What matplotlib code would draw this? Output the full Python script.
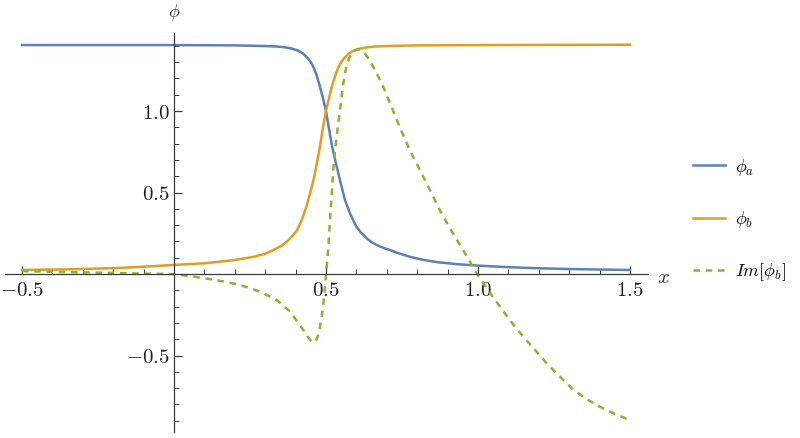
import matplotlib
matplotlib.use("Agg")
import matplotlib.pyplot as plt
from matplotlib.ticker import FixedLocator, MultipleLocator

plt.rcParams['mathtext.fontset'] = 'cm'
plt.rcParams['font.family'] = ['DejaVu Serif']

# phi_a (blue)
x_a = [-0.5, 0.0, 0.2, 0.3, 0.34, 0.37, 0.39, 0.41, 0.425, 0.44, 0.45, 0.46, 0.47, 0.48, 0.49,
       0.50, 0.51, 0.52, 0.53, 0.546, 0.5625, 0.579, 0.60, 0.615, 0.634, 0.65, 0.667, 0.69,
       0.711, 0.74, 0.776, 0.82, 0.87, 0.93, 1.0, 1.08, 1.16, 1.25, 1.36, 1.5]
y_a = [1.405, 1.405, 1.403, 1.399, 1.396, 1.39, 1.382, 1.37, 1.352, 1.325, 1.30, 1.265, 1.215, 1.15, 1.08,
       1.00, 0.89, 0.785, 0.70, 0.577, 0.454, 0.372, 0.29, 0.255, 0.219, 0.196, 0.178, 0.16,
       0.147, 0.127, 0.106, 0.087, 0.072, 0.061, 0.052, 0.044, 0.038, 0.033, 0.029, 0.025]

# phi_b (orange)
x_b = [-0.5, -0.35, -0.2, -0.1, 0.0, 0.1, 0.2, 0.26, 0.30, 0.33, 0.355, 0.375, 0.39, 0.405,
       0.42, 0.435, 0.45, 0.46, 0.47, 0.48, 0.49, 0.50, 0.51, 0.52, 0.53, 0.54, 0.55, 0.56,
       0.575, 0.59, 0.61, 0.63, 0.66, 0.70, 0.8, 1.0, 1.5]
y_b = [0.025, 0.029, 0.036, 0.045, 0.056, 0.066, 0.086, 0.105, 0.125, 0.15, 0.175, 0.205, 0.235, 0.27,
       0.33, 0.41, 0.51, 0.585, 0.68, 0.78, 0.90, 1.00, 1.08, 1.155, 1.215, 1.265, 1.30, 1.325,
       1.352, 1.37, 1.382, 1.39, 1.396, 1.399, 1.403, 1.405, 1.407]

# Im[phi_b] (green dashed)
x_g = [-0.5, -0.35, -0.2, -0.1, 0.0, 0.064, 0.14, 0.217, 0.283, 0.338, 0.382, 0.414, 0.43, 0.442,
       0.452, 0.458, 0.464, 0.47, 0.477, 0.486, 0.492, 0.497, 0.504, 0.508, 0.513, 0.519, 0.524,
       0.53, 0.54, 0.546, 0.551, 0.557, 0.5625, 0.568, 0.576, 0.584, 0.595, 0.606, 0.615, 0.625,
       0.645, 0.66, 0.678, 0.695, 0.711, 0.743, 0.776, 0.809, 0.842, 0.875, 0.908, 0.941, 0.974,
       0.996, 1.03, 1.072, 1.11, 1.149, 1.19, 1.226, 1.27, 1.314, 1.36, 1.401, 1.45, 1.5]
y_g = [0.018, 0.012, 0.007, 0.003, 0.0, -0.016, -0.037, -0.067, -0.108, -0.16, -0.23, -0.313, -0.355, -0.39,
       -0.413, -0.42, -0.415, -0.395, -0.36, -0.26, -0.17, -0.07, 0.086, 0.167, 0.33, 0.495, 0.64,
       0.76, 0.92, 1.006, 1.08, 1.17, 1.23, 1.28, 1.325, 1.35, 1.372, 1.38, 1.375, 1.36,
       1.31, 1.255, 1.19, 1.12, 1.047, 0.90, 0.76, 0.638, 0.515, 0.39, 0.28, 0.178, 0.075,
       0.004, -0.09, -0.2, -0.295, -0.385, -0.47, -0.548, -0.63, -0.71, -0.77, -0.814, -0.858, -0.896]

labels = [r'$\phi_a$', r'$\phi_b$', r'$Im[\phi_b]$']
x_major = [-0.5, 0.5, 1.0, 1.5]
x_major_labels = [r'$-0.5$', r'$0.5$', r'$1.0$', r'$1.5$']
y_major = [-0.5, 0.5, 1.0]
y_major_labels = [r'$-0.5$', r'$0.5$', r'$1.0$']

c_blue = '#5E81B5'
c_orange = '#E19C24'
c_green = '#8FB032'
axc = '#3a3a3a'

W, H = 800, 438
fig = plt.figure(figsize=(W / 100, H / 100), dpi=100)
left_px, right_px, top_px, bot_px = 5.3, 648.2, 33, 432
ax = fig.add_axes([left_px / W, 1 - bot_px / H, (right_px - left_px) / W, (bot_px - top_px) / H])
ax.set_xlim(-0.555, 1.56)
ax.set_ylim(-0.969, 1.479)

l1, = ax.plot(x_a, y_a, color=c_blue, lw=1.8, solid_joinstyle='round', label=labels[0])
l2, = ax.plot(x_b, y_b, color=c_orange, lw=1.8, solid_joinstyle='round', label=labels[1])
l3, = ax.plot(x_g, y_g, color=c_green, lw=1.8, linestyle=(0, (2.6, 2.3)), label=labels[2])

for s in ['top', 'right']:
    ax.spines[s].set_visible(False)
ax.spines['left'].set_position(('data', 0))
ax.spines['bottom'].set_position(('data', 0))
for s in ['left', 'bottom']:
    ax.spines[s].set_color(axc)
    ax.spines[s].set_linewidth(0.9)

ax.xaxis.set_major_locator(FixedLocator(x_major))
ax.set_xticklabels(x_major_labels)
ax.xaxis.set_minor_locator(MultipleLocator(0.1))
ax.yaxis.set_major_locator(FixedLocator(y_major))
ax.set_yticklabels(y_major_labels)
ax.yaxis.set_minor_locator(MultipleLocator(0.1))

ax.tick_params(axis='both', which='major', direction='in', length=6, width=0.9, color=axc,
               labelsize=15, labelcolor='#222222')
ax.tick_params(axis='both', which='minor', direction='in', length=3.5, width=0.7, color=axc)
ax.tick_params(axis='x', which='major', pad=5)
ax.tick_params(axis='y', which='major', pad=3)

ax.text(1.61, -0.02, r'$x$', fontsize=15, color='#333333', ha='center', va='center', clip_on=False)
ax.text(0.0, 1.607, r'$\phi$', fontsize=13, color='#333333', ha='center', va='center', clip_on=False)

leg = fig.legend(handles=[l1, l2, l3], labels=labels, loc='center left',
                 bbox_to_anchor=(693 / W, 1 - 220 / H), frameon=False, fontsize=13,
                 handlelength=1.75, handletextpad=0.6, labelspacing=1.75, borderpad=0,
                 borderaxespad=0)

fig.savefig('out.png', dpi=100)
